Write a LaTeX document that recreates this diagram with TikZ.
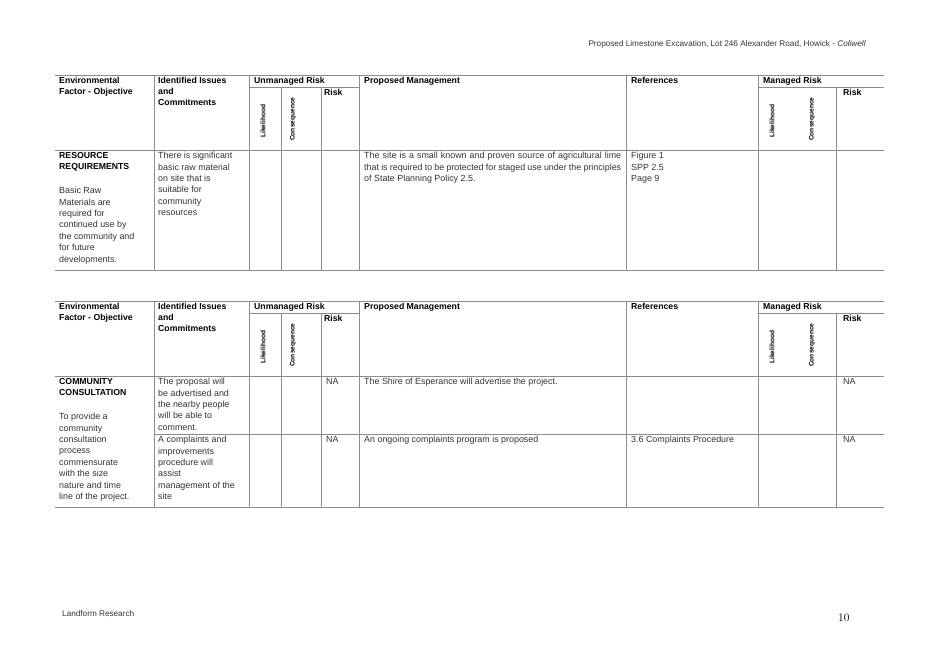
\documentclass[tikz,border=0pt]{standalone}
\usepackage{fontspec}
\setmainfont{Liberation Sans}
\newfontfamily\numfont{Latin Modern Roman}
\usetikzlibrary{calc}
\definecolor{rule-grey}{HTML}{8c8c8c}
\definecolor{body-grey}{HTML}{333333}

\begin{document}
\begin{tikzpicture}[x=1pt, y=-1pt,
    cell/.style={anchor=north west, inner sep=0pt, align=left, font=\fontsize{8.9}{11.4}\selectfont, text=body-grey},
    head/.style={anchor=north west, inner sep=0pt, align=left, font=\fontsize{8.7}{11}\selectfont\bfseries},
    vert/.style={rotate=90, anchor=west, inner sep=0pt, font=\fontsize{6.6}{7}\selectfont\bfseries},
    grid/.style={rule-grey, line width=0.8pt}]
    \useasboundingbox (0, 0) rectangle (929, 657);

    % page header and footer
    \node[anchor=base east, inner sep=0pt, font=\fontsize{8.2}{9}\selectfont, text=body-grey] (runhead) at (866, 46)
        {Proposed Limestone Excavation, Lot 246 Alexander Road, Howick - \textit{Coliwell}};
    \node[anchor=base west, inner sep=0pt, font=\fontsize{8.2}{9}\selectfont, text=body-grey] (foot) at (62, 616) {Landform Research};
    \node[anchor=base west, inner sep=0pt, font=\numfont\fontsize{11.5}{12}\selectfont] (pageno) at (838, 621) {10};

    % table frames: top, header bottom, last row bottom
    \foreach \t/\h/\b in {75/150/270, 301/376/507} {
        \draw[grid] (55, \t) -- (884, \t);
        \draw[grid] (249, \t+12) -- (359, \t+12);
        \draw[grid] (758, \t+12) -- (884, \t+12);
        \draw[grid] (55, \h) -- (884, \h);
        \draw[grid] (55, \b) -- (884, \b);
        \foreach \c in {154, 249, 359, 626, 758}
            \draw[grid] (\c, \t) -- (\c, \b);
        \foreach \c in {281, 321, 836}
            \draw[grid] (\c, \t+12) -- (\c, \b);
        % header labels
        \node[head] at (59, \t+2) {Environmental\\Factor - Objective};
        \node[head] at (158, \t+2) {Identified Issues\\and\\Commitments};
        \node[head] at (254, \t+2) {Unmanaged Risk};
        \node[head] at (324, \t+14) {Risk};
        \node[head] at (364, \t+2) {Proposed Management};
        \node[head] at (631, \t+2) {References};
        \node[head] at (763, \t+2) {Managed Risk};
        \node[head] at (843, \t+14) {Risk};
        \node[vert] at (263, \t+63) {Likelihood};
        \node[vert] at (293, \t+66) {Consequence};
        \node[vert] at (772, \t+63) {Likelihood};
        \node[vert] at (812, \t+66) {Consequence};
    }
    \draw[grid] (154, 434) -- (884, 434);

    % first table body
    \node[head, font=\fontsize{8.7}{11.4}\selectfont\bfseries] (resreq) at (59, 152) {RESOURCE\\REQUIREMENTS};
    \node[cell] (resobj) at (59, 187) {Basic Raw\\Materials are\\required for\\continued use by\\the community and\\for future\\developments.};
    \node[cell] (resissue) at (158, 152) {There is significant\\basic raw material\\on site that is\\suitable for\\community\\resources};
    \node[cell, text width=257pt, align=justify] (resmgmt) at (364, 152) {The site is a small known and proven source of agricultural lime that is required to be protected for staged use under the principles of State Planning Policy 2.5.};
    \node[cell] (resref) at (631, 152) {Figure 1\\SPP 2.5\\Page 9};

    % second table body
    \node[head, font=\fontsize{8.7}{11.4}\selectfont\bfseries] (comcon) at (59, 378) {COMMUNITY\\CONSULTATION};
    \node[cell] (comobj) at (59, 413) {To provide a\\community\\consultation\\process\\commensurate\\with the size\\nature and time\\line of the project.};
    \node[cell] (comissue) at (158, 378) {The proposal will\\be advertised and\\the nearby people\\will be able to\\comment.};
    \node[cell] (comrisk) at (326, 378) {NA};
    \node[cell] (commgmt) at (364, 378) {The Shire of Esperance will advertise the project.};
    \node[cell] (comrisk2) at (843, 378) {NA};
    \node[cell] (cplissue) at (158, 436) {A complaints and\\improvements\\procedure will\\assist\\management of the\\site};
    \node[cell] (cplrisk) at (326, 436) {NA};
    \node[cell] (cplmgmt) at (364, 436) {An ongoing complaints program is proposed};
    \node[cell] (cplref) at (631, 436) {3.6 Complaints Procedure};
    \node[cell] (cplrisk2) at (843, 436) {NA};
\end{tikzpicture}
\end{document}
